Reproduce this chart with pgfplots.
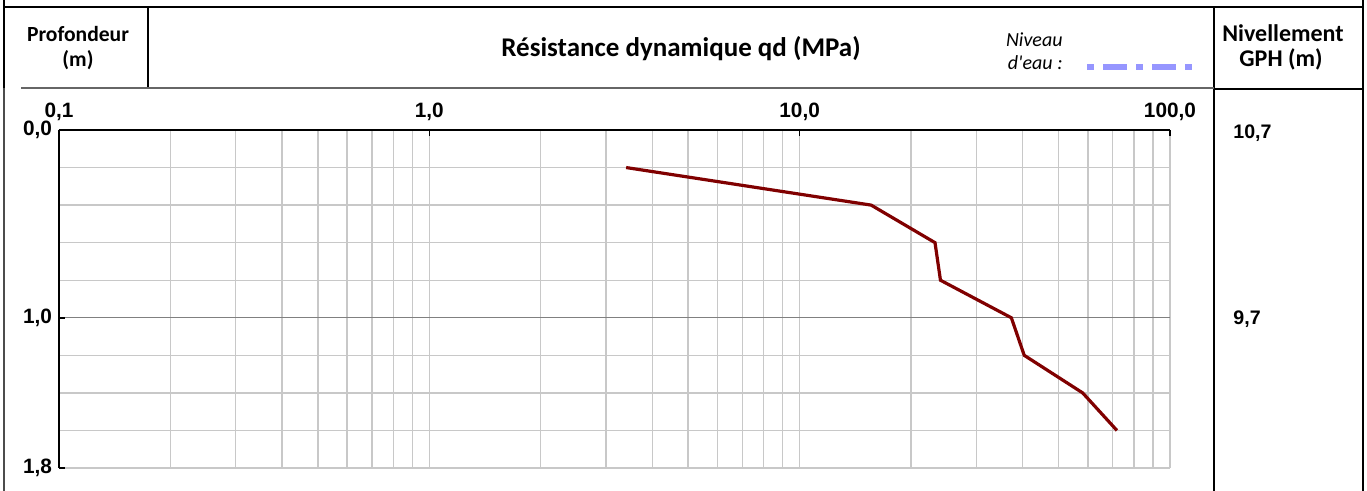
\documentclass[border=0pt]{standalone}
\usepackage{fontspec}
\setmainfont{Liberation Sans}
\newfontfamily\calibri{Carlito}
\usepackage{pgfplots}
\pgfplotsset{compat=1.18}
\definecolor{curve}{RGB}{128,0,0}
\definecolor{gridc}{RGB}{200,200,200}
\definecolor{darkgrid}{RGB}{128,128,128}
\definecolor{water}{RGB}{150,150,255}
\begin{document}
\begin{tikzpicture}[x=0.5pt,y=-0.5pt]
\useasboundingbox (0,0) rectangle (1367,491);
% frame of the table
\draw[line width=1pt] (3,7) -- (1364,7);
\draw[line width=0.9pt] (4,0) -- (4,88);
\draw[line width=0.6pt, black!70] (4,88) -- (4,491);
\draw[line width=0.8pt] (1363,0) -- (1363,491);
\draw[line width=0.8pt] (1214,7) -- (1214,491);
\draw[line width=0.6pt] (148,7) -- (148,88);
\draw[line width=0.6pt, black!60] (21,88) -- (1214,88);
\draw[line width=0.8pt] (1214,89) -- (1363,89);
% header texts
\node[anchor=base, inner sep=0] at (78,42) {\calibri\bfseries\fontsize{10.8pt}{12pt}\selectfont Profondeur};
\node[anchor=base, inner sep=0] at (78,67) {\calibri\bfseries\fontsize{10.8pt}{12pt}\selectfont (m)};
\node[anchor=base, inner sep=0] at (681,57) {\calibri\bfseries\fontsize{13.5pt}{15pt}\selectfont Résistance dynamique qd (MPa)};
\node[anchor=base east, inner sep=0] at (1063,47) {\calibri\itshape\fontsize{10pt}{12pt}\selectfont Niveau};
\node[anchor=base east, inner sep=0] at (1063,70) {\calibri\itshape\fontsize{10pt}{12pt}\selectfont d'eau :};
\draw[water, line width=3pt, dash pattern=on 3.5pt off 4.5pt on 12pt off 4.5pt] (1087,67) -- (1193,67);
\node[anchor=base, inner sep=0] at (1283,42) {\calibri\bfseries\fontsize{12pt}{14pt}\selectfont Nivellement};
\node[anchor=base, inner sep=0] at (1281,67) {\calibri\bfseries\fontsize{12pt}{14pt}\selectfont GPH (m)};
% right column values
\node[anchor=base west, inner sep=0] at (1233,139) {\bfseries\fontsize{9.8pt}{12pt}\selectfont 10,7};
\node[anchor=base west, inner sep=0] at (1233,325) {\bfseries\fontsize{9.8pt}{12pt}\selectfont 9,7};
\begin{axis}[
  at={(29.5pt,-65pt)}, anchor=north west,
  scale only axis, width=555.5pt, height=169pt,
  xmode=log, xmin=0.1, xmax=100,
  ymin=0, ymax=1.8, y dir=reverse,
  axis x line*=top, axis y line*=left,
  axis line style={-, line width=1pt, black},
  xtick={0.1,1,10,100},
  xticklabels={{\textbf{0,1}},{\textbf{1,0}},{\textbf{10,0}},{\textbf{100,0}}},
  xticklabel style={yshift=1.2pt},
  minor xtick={0.2,0.3,0.4,0.5,0.6,0.7,0.8,0.9,2,3,4,5,6,7,8,9,20,30,40,50,60,70,80,90},
  ytick={0,1.8},
  yticklabels={{\textbf{0,0}},{\textbf{1,8}}},
  minor ytick={0.2,0.4,0.6,0.8,1.2,1.4,1.6},
  extra y ticks={1},
  extra y tick labels={{\textbf{1,0}}},
  extra y tick style={grid=major, major grid style={darkgrid, line width=0.7pt}},
  grid=both,
  major grid style={gridc, line width=0.7pt},
  minor grid style={gridc, line width=0.7pt},
  tick align=inside,
  major tick length=3pt, minor tick length=0pt,
  tick style={black, line width=0.8pt},
  ticklabel style={font=\fontsize{10.4pt}{12pt}\selectfont},
]
\addplot[curve, line width=1.6pt] coordinates {
  (3.4,0.2) (15.6,0.4) (23.2,0.6) (24.0,0.8) (37.3,1.0) (40.4,1.2) (58.1,1.4) (71.9,1.6)
};
\end{axis}
\end{tikzpicture}
\end{document}
